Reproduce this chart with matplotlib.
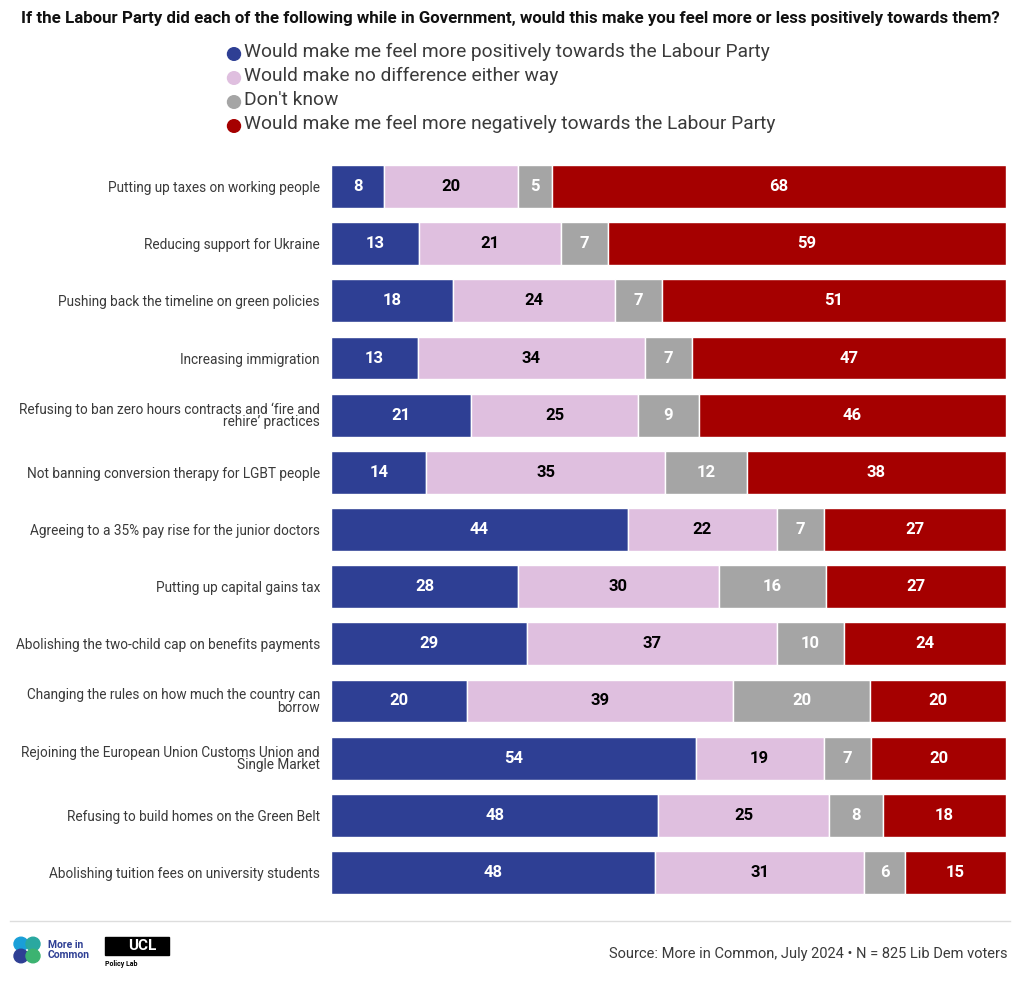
import matplotlib
matplotlib.use("Agg")
import matplotlib.pyplot as plt
import numpy as np
from matplotlib.patches import Circle, Rectangle

categories = [
    "Putting up taxes on working people",
    "Reducing support for Ukraine",
    "Pushing back the timeline on green policies",
    "Increasing immigration",
    "Refusing to ban zero hours contracts and \u2018fire and\nrehire\u2019 practices",
    "Not banning conversion therapy for LGBT people",
    "Agreeing to a 35% pay rise for the junior doctors",
    "Putting up capital gains tax",
    "Abolishing the two-child cap on benefits payments",
    "Changing the rules on how much the country can\nborrow",
    "Rejoining the European Union Customs Union and\nSingle Market",
    "Refusing to build homes on the Green Belt",
    "Abolishing tuition fees on university students",
]
positive = [8, 13, 18, 13, 21, 14, 44, 28, 29, 20, 54, 48, 48]
no_diff = [20, 21, 24, 34, 25, 35, 22, 30, 37, 39, 19, 25, 31]
dont_know = [5, 7, 7, 7, 9, 12, 7, 16, 10, 20, 7, 8, 6]
negative = [68, 59, 51, 47, 46, 38, 27, 27, 24, 20, 20, 18, 15]
series_names = [
    "Would make me feel more positively towards the Labour Party",
    "Would make no difference either way",
    "Don't know",
    "Would make me feel more negatively towards the Labour Party",
]
colors = ["#2e3f94", "#dfbfdf", "#a5a5a5", "#a50000"]
text_colors = ["white", "black", "white", "white"]

title = "If the Labour Party did each of the following while in Government, would this make you feel more or less positively towards them?"
source = "Source: More in Common, July 2024 \u2022 N = 825 Lib Dem voters"

plt.rcParams['font.family'] = ['Roboto', 'DejaVu Sans']

fig = plt.figure(figsize=(10.2, 9.88), dpi=100)
W, H = 1020, 988
ax = fig.add_axes([331 / W, 1 - 901 / H, (1006 - 331) / W, (901 - 158) / H])

data = np.array([positive, no_diff, dont_know, negative], dtype=float)
totals = data.sum(axis=0)
y = np.arange(len(categories))
left = np.zeros(len(categories))
for i in range(4):
    widths = data[i] / totals * 100
    ax.barh(y, widths, left=left, height=0.75, color=colors[i],
            edgecolor="white", linewidth=1.0)
    for j in range(len(categories)):
        ax.text(left[j] + widths[j] / 2, y[j], f"{int(data[i][j])}",
                ha="center", va="center", color=text_colors[i],
                fontsize=12, fontweight="bold")
    left += widths

ax.set_xlim(0, 100)
ax.set_ylim(len(categories) - 0.5, -0.5)
ax.set_yticks(y)
ax.set_yticklabels(categories, fontsize=9.8, color="#3a3a3a", linespacing=0.85)
ax.tick_params(axis="y", length=0, pad=8)
ax.set_xticks([])
for s in ax.spines.values():
    s.set_visible(False)

# Title
fig.text(510 / W, 1 - 18 / H, title, ha="center", va="center",
         fontsize=12.2, fontweight="bold", color="#111111")

# Legend
for k, name in enumerate(series_names):
    ly = 52 + 24 * k
    fig.patches.append(Circle((234 / W, 1 - (ly + 2) / H), 6.5 / W, transform=fig.transFigure,
                              color=colors[k], zorder=5))
    fig.text(244 / W, 1 - ly / H, name, ha="left", va="center",
             fontsize=13.8, color="#3a3a3a")

# Footer line
fig.add_artist(plt.Line2D([10 / W, 1010 / W], [1 - 921 / H, 1 - 921 / H],
                          transform=fig.transFigure, color="#dddddd", linewidth=1))
fig.text(1008 / W, 1 - 954 / H, source, ha="right", va="center",
         fontsize=10.5, color="#3a3a3a")

# More in Common logo (approximation)
logo_cols = ["#1a9fd8", "#2aa8a0", "#2e3f94", "#3cb371"]
offs = [(-6, -6), (6, -6), (-6, 6), (6, 6)]
for (dx, dy), c in zip(offs, logo_cols):
    fig.patches.append(Circle(((27 + dx) / W, 1 - (950 + dy) / H), 7 / W,
                              transform=fig.transFigure, color=c, zorder=5))
fig.text(48 / W, 1 - 950 / H, "More in\nCommon", ha="left", va="center",
         fontsize=7.5, fontweight="bold", color="#2e3f94", linespacing=1.0)

# UCL logo (approximation)
fig.patches.append(Rectangle((105 / W, 1 - 955 / H), 64 / W, 18 / H,
                             transform=fig.transFigure, color="black", zorder=5))
fig.text(142 / W, 1 - 946 / H, "UCL", ha="center", va="center",
         fontsize=11, fontweight="bold", color="white", zorder=6)
fig.text(105 / W, 1 - 964 / H, "Policy Lab", ha="left", va="center",
         fontsize=5, fontweight="bold", color="black")

fig.savefig("out.png", dpi=100, facecolor="white")
